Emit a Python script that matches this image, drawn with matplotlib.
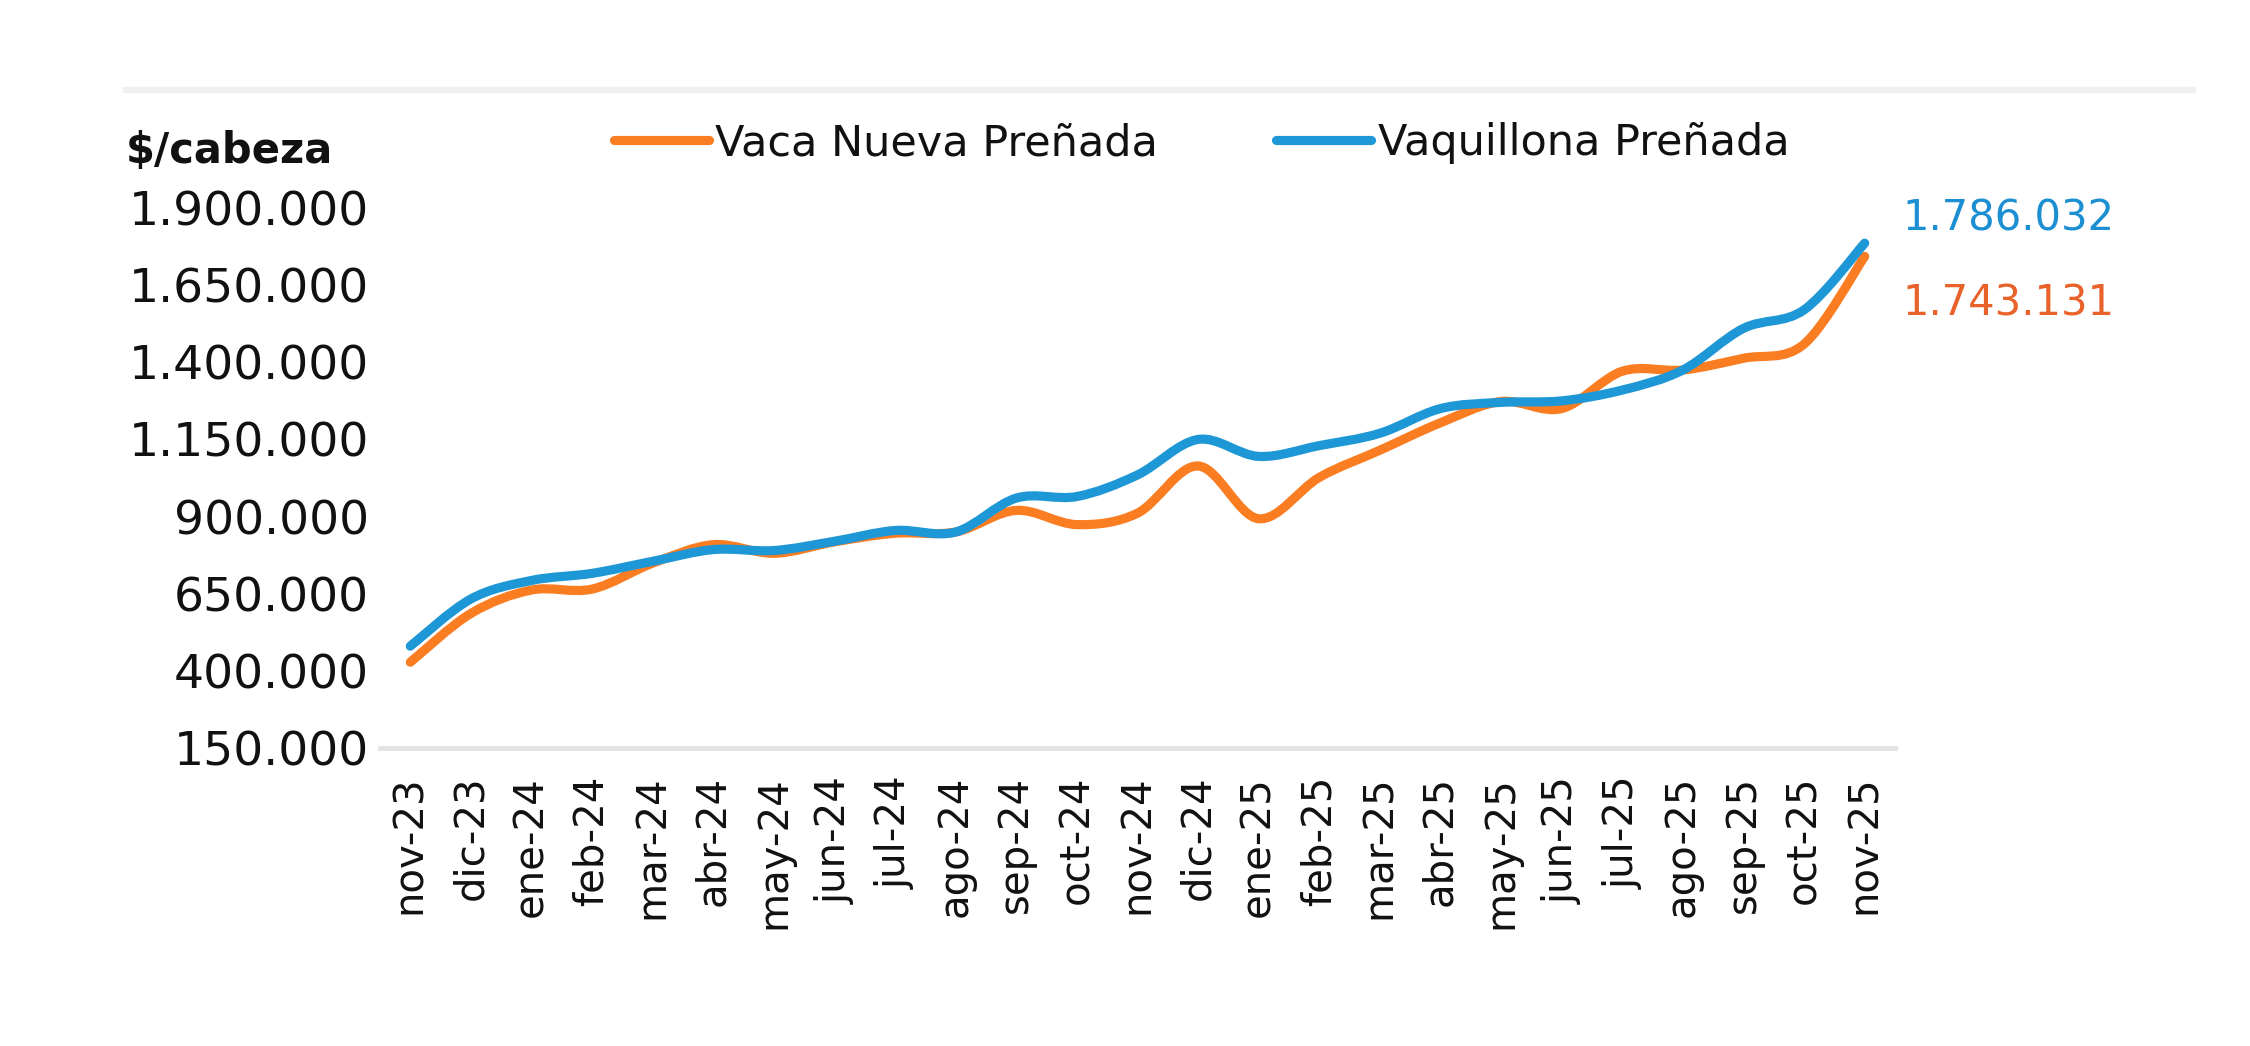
import matplotlib
matplotlib.use("Agg")
import matplotlib.pyplot as plt
from matplotlib.path import Path
from matplotlib.patches import PathPatch
from matplotlib.lines import Line2D
from matplotlib.ticker import FuncFormatter

# ---------------- data ----------------
months = ["nov-23", "dic-23", "ene-24", "feb-24", "mar-24", "abr-24", "may-24",
          "jun-24", "jul-24", "ago-24", "sep-24", "oct-24", "nov-24", "dic-24",
          "ene-25", "feb-25", "mar-25", "abr-25", "may-25", "jun-25", "jul-25",
          "ago-25", "sep-25", "oct-25", "nov-25"]

vaca_nueva = [428000, 586000, 662000, 665000, 749000, 809000, 781000,
              818000, 846000, 850000, 920000, 874000, 911000, 1064000,
              893000, 1027000, 1115000, 1204000, 1273000, 1250000, 1371000,
              1375000, 1413000, 1459000, 1743131]

vaquillona = [480000, 633000, 693000, 716000, 755000, 793000, 790000,
              820000, 855000, 850000, 960000, 965000, 1035000, 1150000,
              1095000, 1130000, 1170000, 1250000, 1270000, 1275000, 1310000,
              1375000, 1510000, 1570000, 1786032]

series_names = ["Vaca Nueva Preñada", "Vaquillona Preñada"]
end_labels = ["1.743.131", "1.786.032"]
y_ticks = [150000, 400000, 650000, 900000, 1150000, 1400000, 1650000, 1900000]
y_title = "$/cabeza"

# ---------------- style ----------------
ORANGE = "#FB7D22"
BLUE = "#1E97D6"
ORANGE_TXT = "#E8622A"
BLUE_TXT = "#1B8FD2"
TXT = "#111111"
FONT = "DejaVu Sans"
plt.rcParams["font.family"] = [FONT]


def smooth_path(xs, ys):
    """Excel-like smoothed line (Catmull-Rom -> cubic Bezier)."""
    n = len(xs)
    verts = [(xs[0], ys[0])]
    codes = [Path.MOVETO]
    for i in range(n - 1):
        i0 = i - 1 if i > 0 else i
        i3 = i + 2 if i + 2 < n else i + 1
        c1 = (xs[i] + (xs[i + 1] - xs[i0]) / 6.0, ys[i] + (ys[i + 1] - ys[i0]) / 6.0)
        c2 = (xs[i + 1] - (xs[i3] - xs[i]) / 6.0, ys[i + 1] - (ys[i3] - ys[i]) / 6.0)
        verts += [c1, c2, (xs[i + 1], ys[i + 1])]
        codes += [Path.CURVE4] * 3
    return Path(verts, codes)


W, H = 2250, 1046
fig = plt.figure(figsize=(W / 100, H / 100), dpi=100)
fig.patch.set_facecolor("white")

ax_left, ax_right, ax_top, ax_bottom = 380, 1895, 208, 748
ax = fig.add_axes([ax_left / W, 1 - ax_bottom / H,
                   (ax_right - ax_left) / W, (ax_bottom - ax_top) / H])

x = list(range(len(months)))
LW = 6.6
for vals, col in ((vaca_nueva, ORANGE), (vaquillona, BLUE)):
    patch = PathPatch(smooth_path(x, vals), facecolor="none", edgecolor=col,
                      lw=LW, capstyle="round", joinstyle="round", zorder=3)
    ax.add_patch(patch)

ax.set_xlim(-0.5, len(months) - 0.5)
ax.set_ylim(y_ticks[0], y_ticks[-1])
ax.set_xticks(x)
ax.set_xticklabels(months, rotation=90, fontsize=29, color=TXT)
ax.set_yticks(y_ticks)
ax.yaxis.set_major_formatter(FuncFormatter(lambda v, p: f"{v:,.0f}".replace(",", ".")))
ax.tick_params(axis="y", length=0, pad=8, labelsize=34, labelcolor=TXT)
ax.tick_params(axis="x", length=0, pad=20)
for s in ("top", "right", "left"):
    ax.spines[s].set_visible(False)
ax.spines["bottom"].set_color("#E3E3E3")
ax.spines["bottom"].set_linewidth(3.5)
ax.set_facecolor("none")

# end-of-series labels
ax.annotate(end_labels[1], xy=(x[-1], vaquillona[-1]), xytext=(180, 18),
            textcoords="offset points", ha="right", va="center",
            fontsize=30, color=BLUE_TXT)
ax.annotate(end_labels[0], xy=(x[-1], vaca_nueva[-1]), xytext=(180, -34),
            textcoords="offset points", ha="right", va="center",
            fontsize=30, color=ORANGE_TXT)

# y title
fig.text(126 / W, 1 - 151 / H, y_title, fontsize=30, fontweight="bold",
         color=TXT, ha="left", va="center")

# legend
handles = [Line2D([0], [0], color=ORANGE, lw=LW, solid_capstyle="round"),
           Line2D([0], [0], color=BLUE, lw=LW, solid_capstyle="round")]
leg = fig.legend(handles, series_names, loc="center left",
                 bbox_to_anchor=(614 / W, 1 - 143 / H), ncol=2, frameon=False,
                 fontsize=31, handlelength=2.2, handletextpad=0.15,
                 columnspacing=2.75, borderpad=0, borderaxespad=0)
for t in leg.get_texts():
    t.set_color(TXT)

# light top rule
fig.add_artist(Line2D([126 / W, 2193 / W], [1 - 90 / H, 1 - 90 / H],
                      transform=fig.transFigure, color="#F0F0F0", lw=4.5))

fig.savefig("out.png", dpi=100, facecolor="white")
